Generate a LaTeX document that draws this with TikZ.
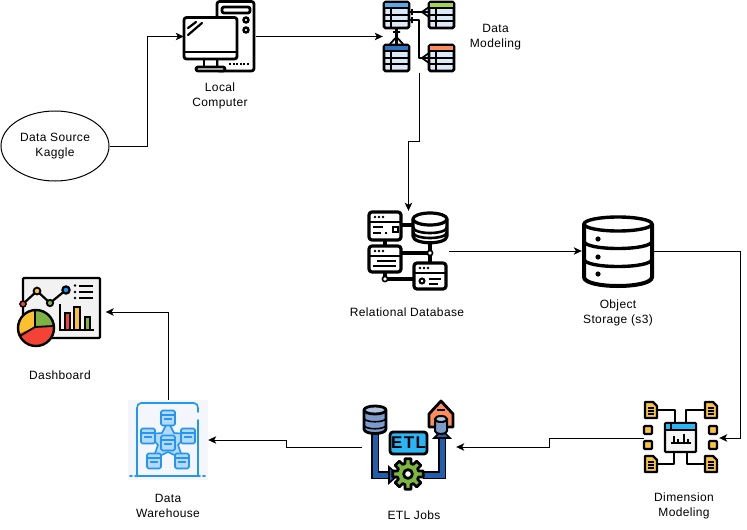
\documentclass[tikz,border=0pt]{standalone}
\usepackage{fontspec}
\setmainfont[LetterSpace=3]{Liberation Sans}
\usetikzlibrary{arrows.meta,shapes.geometric}
\definecolor{bodyb}{HTML}{DCEAF8}
\definecolor{hblue}{HTML}{5AA9E6}
\definecolor{hdark}{HTML}{2F74C0}
\definecolor{hgreen}{HTML}{A5D34F}
\definecolor{horange}{HTML}{FF8C5A}
\definecolor{dwblue}{HTML}{2196F3}
\definecolor{dwfill}{HTML}{B5D8FB}
\definecolor{dwbg}{HTML}{F4F6FC}
\definecolor{etlblue}{HTML}{7B9CCB}
\definecolor{pipeb}{HTML}{1E5FAF}
\definecolor{gearg}{HTML}{7CB83E}
\definecolor{etlbox}{HTML}{29B6F6}
\definecolor{docy}{HTML}{F9C43C}
\definecolor{pier}{HTML}{F44336}
\definecolor{piey}{HTML}{FBC02D}
\definecolor{pieg}{HTML}{7CB342}
\tikzset{
  x=1pt,y=-1pt,
  txt/.style={font=\fontsize{12}{15}\selectfont,align=center,inner sep=0pt,text=black},
  anchorbox/.style={inner sep=0pt,draw=none},
  conn/.style={draw=black,line width=1pt,-{Stealth[length=8pt,width=7.5pt,inset=2pt]}},
  ink/.style={draw=black,line width=2.8pt,line join=round,line cap=round},
  thick3/.style={draw=black,line width=3.2pt,line join=round,line cap=round},
  blueink/.style={draw=dwblue,line width=1.6pt,line join=round,line cap=round},
}
% table icon: x1 y1 x2 y2 header colour
\newcommand\dbtable[5]{%
  \draw[ink,fill=bodyb,rounded corners=1.5pt] (#1,#2) rectangle (#3,#4);
  \fill[#5] (#1+1,#2+1) rectangle (#3-1,#2+5.5);
  \draw[black,line width=2pt] (#1,#2+6) -- (#3,#2+6)
    (#1,{#2+6+(#4-#2-6)/3}) -- (#3,{#2+6+(#4-#2-6)/3})
    (#1,{#2+6+2*(#4-#2-6)/3}) -- (#3,{#2+6+2*(#4-#2-6)/3})
    (#1+7,#2+6) -- (#1+7,#4);
}
% server icon
\newcommand\srv[4]{%
  \draw[thick3,fill=white,rounded corners=3pt] (#1,#2) rectangle (#3,#4);
  \draw[black,line width=2.8pt] (#1,#2+10) -- (#3,#2+10);
  \fill[black] (#1+6,#2+5) circle (1.3) (#1+10,#2+5) circle (1.3) (#1+14,#2+5) circle (1.3);
}
% document icon
\newcommand\docicon[2]{%
  \draw[draw=black,line width=2.4pt,line join=round,fill=docy]
    (#1,#2) -- (#1+8,#2) -- (#1+12,#2+4) -- (#1+12,#2+16) -- (#1,#2+16) -- cycle;
  \draw[black,line width=1.5pt] (#1+3,#2+6) -- (#1+9,#2+6) (#1+3,#2+9) -- (#1+9,#2+9) (#1+3,#2+12) -- (#1+9,#2+12);
}
% data-warehouse box
\newcommand\whbox[2]{%
  \draw[blueink,fill=dwfill,rounded corners=1.5pt] (#1-7,#2-7.5) rectangle (#1+7,#2+7.5);
  \draw[blueink,line width=1.2pt] (#1-7,#2-3) -- (#1+7,#2-3) (#1-3.5,#2+1) -- (#1+3.5,#2+1);
}
% yellow square
\newcommand\ysq[2]{\draw[draw=black,line width=2.2pt,fill=docy,rounded corners=1pt] (#1-4,#2-4) rectangle (#1+4,#2+4);}
\begin{document}
\begin{tikzpicture}
\useasboundingbox (0,0) rectangle (747,530);
\fill[white] (0,0) rectangle (747,530);

% anchors of the icons
\node[anchorbox,minimum width=72pt,minimum height=72pt] (pc) at (220,36.5) {};
\node[anchorbox,minimum width=72pt,minimum height=72pt] (dm) at (419,36.5) {};
\node[anchorbox,minimum width=81pt,minimum height=80pt] (rdb) at (408.5,251) {};
\node[anchorbox,minimum width=71pt,minimum height=70pt] (os) at (617.5,251) {};
\node[anchorbox,minimum width=87pt,minimum height=74pt] (dash) at (62,312) {};
\node[anchorbox,minimum width=80pt,minimum height=80pt] (dw) at (168,440) {};
\node[anchorbox,minimum width=94pt,minimum height=94pt] (etl) at (409,447) {};
\node[anchorbox,minimum width=75pt,minimum height=76pt] (dim) at (681.5,438) {};

% --- source
\node[draw=black,line width=1pt,ellipse,minimum width=108pt,minimum height=70pt,inner sep=0pt,
      font=\fontsize{12}{15}\selectfont,align=center,text=black] (src) at (55,146) {Data Source\\Kaggle};

% --- computer
\draw[ink,fill=white,rounded corners=2.5pt] (217,1.5) rectangle (254,71);
\draw[ink,rounded corners=2pt] (222,7) rectangle (250,13);
\draw[black,line width=2.4pt] (246,20) circle (2.5) (246,30) circle (2.5);
\draw[black,line width=2.4pt,dash pattern=on 2pt off 1.6pt] (229,64) -- (250,64);
\draw[ink,fill=white] (204,59) rectangle (217,67);
\draw[ink,fill=white,rounded corners=2pt] (196,67) rectangle (225,71);
\draw[ink,fill=white,rounded corners=2.5pt] (184,17.5) rectangle (237,59);
\draw[black,line width=2.8pt] (184,52) -- (237,52);
\draw[black,line width=2.2pt,line cap=round] (188,28) -- (196,22) (188,35) -- (202,23);

% --- data model
\draw[ink] (409,12) -- (429,12);
\draw[ink] (409,20) -- (419,20) -- (419,58) -- (429,58);
\draw[ink] (396.5,28) -- (396.5,44);
\draw[black,line width=1.8pt] (412,9) -- (412,15) (412,17) -- (412,23) (393,32) -- (400,32)
  (429,7) -- (422,12) -- (429,17) (429,53) -- (422,58) -- (429,63) (390,44) -- (396.5,37) -- (403,44);
\dbtable{384}{2}{409}{28}{hblue}
\dbtable{429}{2}{454}{28}{hgreen}
\dbtable{384}{45}{409}{71}{hdark}
\dbtable{429}{45}{454}{71}{horange}

% --- relational database
\draw[thick3] (401,225) -- (413,225) (385,240) -- (385,246) (401,253) -- (430,253) (430,242) -- (430,263)
  (385,272) -- (385,279) -- (414,279);
\srv{369}{212}{401}{240}
\fill[black] (392,226) rectangle (399,233);
\fill[white] (394,228) rectangle (397,231);
\draw[black,line width=1.8pt] (373,227) -- (383,227) (373,233) -- (381,233) (385,233) -- (387,233);
\srv{369}{246}{401}{272}
\draw[black,line width=1.8pt] (377,261) -- (396,261) (373,266) -- (396,266);
\srv{414}{263}{446}{289}
\draw[black,line width=2pt,fill=white] (422,281) circle (2.5);
\draw[black,line width=1.8pt] (429,279) -- (441,279) (429,284) -- (438,284);
\draw[thick3,fill=white] (413,219) -- (413,236) .. controls (413,245) and (447,245) .. (447,236) -- (447,219);
\draw[thick3,fill=white] (430,219) ellipse [x radius=17,y radius=6];
\draw[black,line width=2.6pt] (413,227) .. controls (413,235) and (447,235) .. (447,227);
\draw[black,line width=2.6pt] (413,232) .. controls (413,240) and (447,240) .. (447,232);
\draw[black,line width=1.6pt,fill=white] (430,253) circle (2.6);
\draw[black,line width=1.6pt,fill=white] (385,279) circle (2.6);

% --- object storage
\draw[draw=black,line width=4pt,fill=white] (584,224) -- (584,277) .. controls (584,289) and (652,289) .. (652,277) -- (652,224);
\draw[draw=black,line width=3.4pt,fill=white] (618,224) ellipse [x radius=34,y radius=7];
\draw[black,line width=3.4pt] (584,241) .. controls (584,251) and (652,251) .. (652,241);
\draw[black,line width=3.4pt] (584,259) .. controls (584,269) and (652,269) .. (652,259);
\fill[black] (598,239) circle (2.6) (598,257) circle (2.6) (598,274) circle (2.6);

% --- dashboard
\draw[draw=black,line width=2.2pt,fill=black!5,rounded corners=1pt] (23,278) rectangle (100,338);
\draw[black,line width=2.2pt] (23,304) -- (37,291) -- (50,303) -- (66,290);
\draw[black,line width=1.6pt,fill=pier] (23,304) circle (3);
\draw[black,line width=1.8pt,fill=piey] (37,291) circle (3.4);
\draw[black,line width=1.8pt,fill=pieg] (50,303) circle (3.2);
\draw[black,line width=2.2pt,fill=dwblue] (66,290) circle (3.6);
\fill[black] (75,285.5) circle (1.3) (75,292) circle (1.3) (75,298) circle (1.3);
\draw[black,line width=2pt] (79,285.5) -- (93,285.5) (79,292) -- (93,292) (79,298) -- (93,298);
\draw[draw=black,line width=1.8pt,fill=pier] (65,330) -- (65,313) -- (70,313) -- (70,330);
\draw[draw=black,line width=1.8pt,fill=piey] (74,330) -- (74,307) -- (80,307) -- (80,330);
\draw[draw=black,line width=1.8pt,fill=pieg] (85,330) -- (85,317) -- (90,317) -- (90,330);
\draw[black,line width=2.2pt] (60,304) -- (60,330) -- (94,330);
\begin{scope}
  \clip (36,328) circle (18);
  \fill[pier] (17,309) rectangle (55,347);
  \fill[piey] (35,327) -- (35,305) -- (10,305) -- (10,337) -- cycle;
  \fill[pieg] (35,327) -- (35,305) -- (60,305) -- (60,326) -- cycle;
\end{scope}
\draw[black,line width=1.8pt] (35,310) -- (35,327) -- (53,326) (35,327) -- (20,336);
\draw[black,line width=2.4pt] (36,328) circle (18);

% --- data warehouse
\fill[dwbg] (128,400) rectangle (208,480);
\draw[blueink,rounded corners=2pt] (198,420) -- (198,476) (198,412) -- (198,406) -- (196,403) -- (139,403) -- (137,406) -- (137,476);
\draw[blueink] (130,476) -- (132,476) (135,476) -- (200,476) (203,476) -- (205,476);
\draw[blueink,fill=dwfill] (168,421) -- (174,433) -- (188,434) -- (178,445) -- (183,459) -- (168,452) -- (153,459) -- (158,445) -- (148,434) -- (162,433) -- cycle;
\whbox{168}{418}
\whbox{148}{436}
\whbox{188}{436}
\whbox{154}{461}
\whbox{182}{461}
\whbox{168}{443}

% --- ETL
\draw[draw=black,line width=8pt,line join=miter] (375,433) -- (375,475) -- (392,475);
\draw[draw=pipeb,line width=5pt,line join=miter] (375,433) -- (375,475) -- (392,475);
\draw[draw=black,line width=8pt,line join=miter] (423,475) -- (442,475) -- (442,438);
\draw[draw=pipeb,line width=5pt,line join=miter] (423,475) -- (442,475) -- (442,438);
\draw[draw=black,line width=1.6pt,fill=pipeb] (389,467) -- (398,475) -- (389,483) -- cycle;
\draw[draw=black,line width=1.6pt,fill=pipeb] (434,438) -- (442,430) -- (450,438) -- cycle;
\draw[ink,fill=etlblue] (364,410) -- (364,429) .. controls (364,435) and (386,435) .. (386,429) -- (386,410);
\draw[ink,fill=etlblue!60] (375,410) ellipse [x radius=11,y radius=4];
\draw[black,line width=1.6pt] (364,418) .. controls (364,423) and (386,423) .. (386,418);
\draw[black,line width=1.6pt] (364,425) .. controls (364,430) and (386,430) .. (386,425);
\draw[ink,fill=horange] (429,414) -- (441,401) -- (453,414) -- (453,427) -- (429,427) -- cycle;
\draw[black,line width=1.8pt] (437,410) -- (445,410);
\draw[draw=black,line width=2pt,fill=etlblue] (435,419) -- (435,431) .. controls (435,435) and (447,435) .. (447,431) -- (447,419);
\draw[draw=black,line width=2pt,fill=etlblue!60] (441,419) ellipse [x radius=6,y radius=3];
\draw[ink,fill=etlbox,rounded corners=3pt] (390,432) rectangle (427,454);
\node[inner sep=0pt] (etlt) at (408.5,443) {\fontspec[LetterSpace=8]{Liberation Sans}\fontsize{17}{17}\bfseries\selectfont ETL};
\draw[ink,fill=gearg] ([shift={(408,474)}]-11:15.5) \foreach \a in {0,45,...,315} {
  -- ([shift={(408,474)}]\a-11:15.5) -- ([shift={(408,474)}]\a+11:15.5) -- ([shift={(408,474)}]\a+16:11) -- ([shift={(408,474)}]\a+29:11)
  } -- cycle;
\draw[ink,fill=white] (408,474) circle (4.4);

% --- dimension modeling
\draw[ink] (657,410) -- (675,410) -- (675,423) (704,410) -- (686,410) -- (686,423)
  (657,464) -- (674,464) -- (674,452) (704,464) -- (687,464) -- (687,452);
\draw[draw=black,line width=2.4pt,fill=black!4,rounded corners=1pt] (665,423) rectangle (696,452);
\fill[etlbox] (666,424) rectangle (695,429);
\draw[black,line width=2pt] (665,430) -- (696,430) (671,424) -- (671,430);
\draw[black,line width=1.5pt] (671,443) -- (691,443) (674,443) -- (674,436) (678,443) -- (678,439) (684,443) -- (684,434) (688,443) -- (688,439);
\docicon{645}{402}
\docicon{705}{402}
\docicon{645}{456}
\docicon{705}{456}
\ysq{648}{430}
\ysq{648}{445}
\ysq{713}{430}
\ysq{713}{445}

% --- connectors
\draw[conn] (src.east) -- ++(38,0) |- (pc.west);
\draw[conn] (pc.east) -- (dm.west);
\draw[conn] (dm.south) -- (419,141) -- (408.5,141) -- (rdb.north);
\draw[conn] (rdb.east) -- (os.west);
\draw[conn] (os.east) -- (740,251) |- (dim.east);
\draw[conn] (dim.west) -- (549,438) -- (549,447) -- (etl.east);
\draw[conn] (etl.west) -- (286,447) -- (286,440) -- (dw.east);
\draw[conn] (dw.north) |- (dash.east);

% --- labels
\node[txt] (l1) at (220,96) {Local\\Computer};
\node[txt] (l2) at (495.5,37) {Data\\Modeling};
\node[txt] (l3) at (407,312) {Relational Database};
\node[txt] (l4) at (618,313) {Object\\Storage (s3)};
\node[txt] (l5) at (60,375.5) {Dashboard};
\node[txt] (l6) at (168,506) {Data\\Warehouse};
\node[txt] (l7) at (414,515.5) {ETL Jobs};
\node[txt] (l8) at (684,506) {Dimension\\Modeling};
\end{tikzpicture}
\end{document}
